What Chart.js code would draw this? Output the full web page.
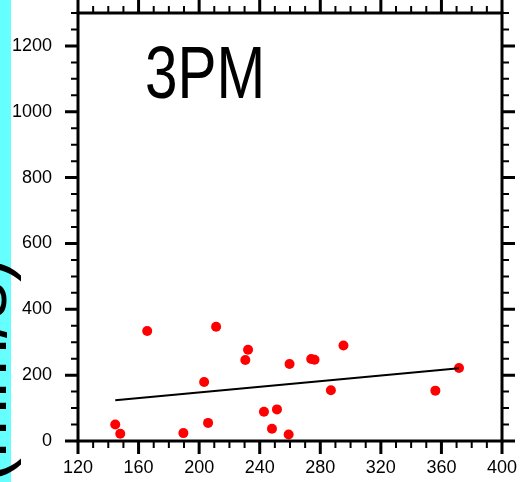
<!DOCTYPE html>
<html>
<head>
<meta charset="utf-8">
<script src="https://cdn.jsdelivr.net/npm/chart.js@4.4.0/dist/chart.umd.min.js"></script>
<style>
  html, body { margin: 0; padding: 0; background: #fff; }
</style>
</head>
<body>
<canvas id="chart" width="520" height="482"></canvas>
<script>
// values
const xValues = [144.6, 147.9, 165.7, 189.6, 203.3, 205.9, 211.2, 230.5, 232.3, 242.8,
                 248.1, 251.4, 259.1, 259.7, 274.0, 276.2, 287.0, 295.3, 356.0, 371.6];
const yValues = [50, 22, 334, 24, 179, 55, 347, 246, 277, 89,
                 37, 96, 20, 234, 249, 247, 154, 290, 153, 222];

// regression line end points
const fitX = [144.6, 371.6];
const fitY = [124, 221];

const xTicks = [120, 160, 200, 240, 280, 320, 360, 400];
const yTicks = [0, 200, 400, 600, 800, 1000, 1200];
const xMinorStep = 10;
const yMinorStep = 50;

const panelLabel = '3PM';
const yTitle = '(mm/s)';

const FONT = '"Liberation Sans", Helvetica, Arial, sans-serif';

const points = xValues.map((x, i) => ({ x: x, y: yValues[i] }));
const fitLine = fitX.map((x, i) => ({ x: x, y: fitY[i] }));

// frame, outward ticks on all four sides, and the big texts
const framePlugin = {
  id: 'frame',
  beforeDraw(chart) {
    const ctx = chart.ctx;
    ctx.save();
    ctx.fillStyle = '#6ff';
    ctx.fillRect(0, 0, 11, chart.height);
    ctx.restore();
  },
  afterDraw(chart) {
    const { ctx, chartArea: a } = chart;
    const x = chart.scales.x;
    const y = chart.scales.y;
    ctx.save();
    ctx.strokeStyle = '#000';
    ctx.lineCap = 'butt';

    for (let v = x.min; v <= x.max + 0.01; v += xMinorStep) {
      const px = x.getPixelForValue(v);
      const major = xTicks.includes(v);
      const len = major ? 13 : 7;
      ctx.lineWidth = major ? 3 : 2;
      ctx.beginPath();
      ctx.moveTo(px, a.bottom);
      ctx.lineTo(px, a.bottom + len);
      ctx.moveTo(px, a.top);
      ctx.lineTo(px, a.top - len);
      ctx.stroke();
    }
    for (let v = y.min; v <= y.max + 0.01; v += yMinorStep) {
      const py = y.getPixelForValue(v);
      const major = yTicks.includes(v);
      const len = major ? 13 : 7;
      ctx.lineWidth = major ? 3 : 2;
      ctx.beginPath();
      ctx.moveTo(a.left, py);
      ctx.lineTo(a.left - len, py);
      ctx.moveTo(a.right, py);
      ctx.lineTo(a.right + len, py);
      ctx.stroke();
    }

    ctx.lineWidth = 3;
    ctx.strokeRect(a.left, a.top, a.right - a.left, a.bottom - a.top);

    // panel label
    ctx.fillStyle = '#000';
    ctx.save();
    ctx.translate(145, 98);
    ctx.scale(0.79, 1);
    ctx.font = '74px ' + FONT;
    ctx.textAlign = 'left';
    ctx.textBaseline = 'alphabetic';
    ctx.fillText(panelLabel, 0, 0);
    ctx.restore();

    // y title, mostly off the left edge (reads bottom to top)
    ctx.save();
    ctx.translate(6, 370);
    ctx.rotate(-Math.PI / 2);
    ctx.font = '72px ' + FONT;
    ctx.textAlign = 'center';
    ctx.textBaseline = 'alphabetic';
    ctx.fillText(yTitle, 0, 0);
    ctx.restore();

    ctx.restore();
  }
};

new Chart(document.getElementById('chart'), {
  type: 'scatter',
  data: {
    datasets: [
      {
        type: 'line',
        data: fitLine,
        borderColor: '#000',
        borderWidth: 2,
        pointRadius: 0,
        fill: false,
        tension: 0,
      },
      {
        data: points,
        backgroundColor: '#ff0000',
        borderWidth: 0,
        pointRadius: 5,
      },
    ],
  },
  options: {
    responsive: false,
    animation: false,
    devicePixelRatio: 1,
    layout: { padding: { left: 0, top: 13, right: 18, bottom: 0 } },
    plugins: {
      legend: { display: false },
      tooltip: { enabled: false },
    },
    scales: {
      x: {
        type: 'linear',
        min: 120,
        max: 400,
        afterBuildTicks(scale) {
          scale.ticks = xTicks.map(v => ({ value: v }));
        },
        afterFit(scale) {
          scale.height = 41;
          scale.paddingLeft = 0;
          scale.paddingRight = 0;
        },
        grid: { display: false, drawTicks: false },
        border: { display: false },
        ticks: {
          autoSkip: false,
          maxRotation: 0,
          padding: 16,
          color: '#000',
          font: { family: FONT, size: 18 },
          callback: v => String(v),
        },
      },
      y: {
        type: 'linear',
        min: 0,
        max: 1300,
        afterBuildTicks(scale) {
          scale.ticks = yTicks.map(v => ({ value: v }));
        },
        afterFit(scale) {
          scale.width = 78;
          scale.paddingTop = 0;
          scale.paddingBottom = 0;
        },
        grid: { display: false, drawTicks: false },
        border: { display: false },
        ticks: {
          autoSkip: false,
          padding: 26,
          color: '#000',
          font: { family: FONT, size: 18 },
          callback: v => String(v),
        },
      },
    },
  },
  plugins: [framePlugin],
});
</script>
</body>
</html>
